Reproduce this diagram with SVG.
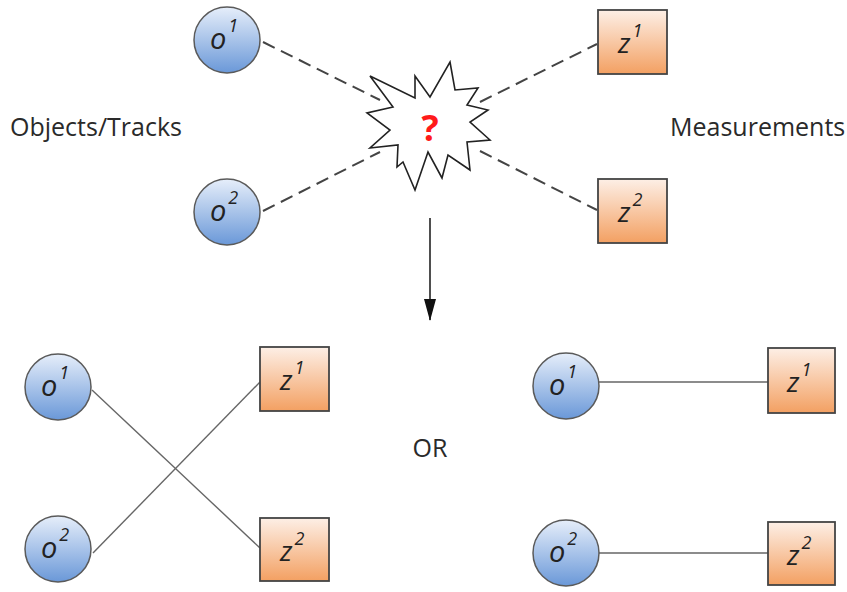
<svg xmlns="http://www.w3.org/2000/svg" width="847" height="592" viewBox="0 0 847 592">
<defs>
<linearGradient id="gBlue" x1="0" y1="0" x2="0" y2="1">
<stop offset="0" stop-color="#e6eefa"/>
<stop offset="1" stop-color="#6a98d8"/>
</linearGradient>
<linearGradient id="gOrange" x1="0" y1="0" x2="0" y2="1">
<stop offset="0" stop-color="#fdefe6"/>
<stop offset="1" stop-color="#f3a062"/>
</linearGradient>
<marker id="arrow" markerWidth="22" markerHeight="12" refX="21" refY="6" orient="auto" markerUnits="userSpaceOnUse" viewBox="0 0 22 12">
<path d="M0,0 L22,6 L0,12 Z" fill="#111"/>
</marker>
</defs>
<style>
.obj{fill:url(#gBlue);stroke:#5a5a5a;stroke-width:1.5}
.meas{fill:url(#gOrange);stroke:#444;stroke-width:1.8}
.lbl{font-family:"Open Sans","Liberation Sans",sans-serif;font-style:italic;font-size:29px;fill:#222}
.zl{font-size:28px}
.sup{font-size:18px}
.txt{font-family:"Open Sans","Liberation Sans",sans-serif;font-size:25px;fill:#2a2a2a}
.dash{stroke:#444;stroke-width:2;stroke-dasharray:13 7;fill:none}
.solid{stroke:#666;stroke-width:1.4;fill:none}
</style>
<rect width="847" height="592" fill="#ffffff"/>

<g id="connectors">
<line class="dash" x1="263" y1="42" x2="380" y2="100"/>
<line class="dash" x1="263" y1="211" x2="380" y2="152"/>
<line class="dash" x1="480" y1="102" x2="597" y2="44"/>
<line class="dash" x1="480" y1="151" x2="597" y2="210"/>
<line x1="430" y1="218" x2="430" y2="320" stroke="#222" stroke-width="1.6" marker-end="url(#arrow)"/>
<line class="solid" x1="92" y1="390" x2="260" y2="548"/>
<line class="solid" x1="93" y1="553" x2="260" y2="382"/>
<line class="solid" x1="599" y1="382" x2="768" y2="382"/>
<line class="solid" x1="599" y1="553" x2="768" y2="553"/>
</g>

<g id="star">
<polygon points="450,62 455,90 478,88 467,105 488,110 470,122 490,140 467,142 470,170 448,155 442,178 428,152 415,190 403,162 397,167 398,145 370,148 390,130 367,113 393,107 370,76 415,98 415,76 430,97" fill="#fff" stroke="#222" stroke-width="1.6" stroke-linejoin="miter"/>
<text x="430" y="141" text-anchor="middle" font-family="'Open Sans','Liberation Sans',sans-serif" font-weight="bold" font-size="36" fill="#ff1a1a">?</text>
</g>

<g id="label-objects"><text class="txt" x="10" y="136">Objects/Tracks</text></g>
<g id="label-measurements"><text class="txt" x="670" y="136">Measurements</text></g>
<g id="label-or"><text class="txt" x="430" y="457" text-anchor="middle">OR</text></g>

<g id="top-o1"><circle class="obj" cx="227" cy="40" r="33"/><text class="lbl" x="210" y="49">o<tspan class="sup" dy="-17" dx="2">1</tspan></text></g>
<g id="top-o2"><circle class="obj" cx="227" cy="212" r="33"/><text class="lbl" x="210" y="221">o<tspan class="sup" dy="-17" dx="2">2</tspan></text></g>
<g id="top-z1"><rect class="meas" x="598" y="10" width="69" height="64"/><text class="lbl zl" x="618" y="53">z<tspan class="sup" dy="-16" dx="2">1</tspan></text></g>
<g id="top-z2"><rect class="meas" x="598" y="179" width="69" height="64"/><text class="lbl zl" x="618" y="222">z<tspan class="sup" dy="-16" dx="2">2</tspan></text></g>

<g id="bl-o1"><circle class="obj" cx="58" cy="387" r="33"/><text class="lbl" x="41" y="396">o<tspan class="sup" dy="-17" dx="2">1</tspan></text></g>
<g id="bl-o2"><circle class="obj" cx="58" cy="549" r="33"/><text class="lbl" x="41" y="558">o<tspan class="sup" dy="-17" dx="2">2</tspan></text></g>
<g id="bl-z1"><rect class="meas" x="260" y="347" width="69" height="64"/><text class="lbl zl" x="280" y="390">z<tspan class="sup" dy="-16" dx="2">1</tspan></text></g>
<g id="bl-z2"><rect class="meas" x="260" y="518" width="69" height="63"/><text class="lbl zl" x="280" y="561">z<tspan class="sup" dy="-16" dx="2">2</tspan></text></g>

<g id="br-o1"><circle class="obj" cx="566" cy="386" r="33"/><text class="lbl" x="549" y="395">o<tspan class="sup" dy="-17" dx="2">1</tspan></text></g>
<g id="br-o2"><circle class="obj" cx="566" cy="553" r="33"/><text class="lbl" x="549" y="562">o<tspan class="sup" dy="-17" dx="2">2</tspan></text></g>
<g id="br-z1"><rect class="meas" x="768" y="348" width="67" height="65"/><text class="lbl zl" x="787" y="392">z<tspan class="sup" dy="-16" dx="2">1</tspan></text></g>
<g id="br-z2"><rect class="meas" x="768" y="522" width="67" height="63"/><text class="lbl zl" x="787" y="565">z<tspan class="sup" dy="-16" dx="2">2</tspan></text></g>
</svg>
